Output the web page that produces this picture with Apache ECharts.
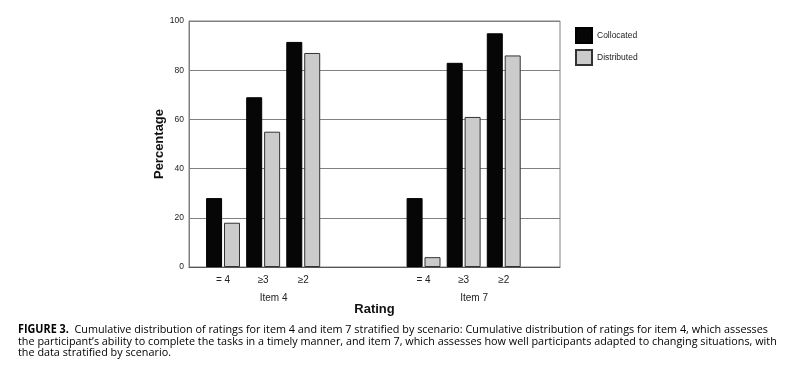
<!DOCTYPE html>
<html><head><meta charset="utf-8">
<script src="https://cdn.jsdelivr.net/npm/echarts@6/dist/echarts.min.js"></script>
<style>html,body{margin:0;padding:0;background:#fff}#c{width:786px;height:370px}</style>
</head><body><div id="c"></div>
<script>
// Data
const ratingLabels = ['= 4', '≥3', '≥2', '', '', '= 4', '≥3', '≥2'];
const itemLabels = ['', 'Item 4', '', '', '', '', 'Item 7', ''];
const collocated = [28, 69, 91.5, null, null, 28, 83, 95];
const distributed = [18, 55, 87, null, null, 4, 61, 86];
const seriesNames = ['Collocated', 'Distributed'];
const yMin = 0, yMax = 100, yStep = 20;
const captionLabel = 'FIGURE 3.';
const captionLines = [
  'Cumulative distribution of ratings for item 4 and item 7 stratified by scenario: Cumulative distribution of ratings for item 4, which assesses',
  'the participant\u2019s ability to complete the tasks in a timely manner, and item 7, which assesses how well participants adapted to changing situations, with',
  'the data stratified by scenario.'
];

const chart = echarts.init(document.getElementById('c'), null, {renderer: 'canvas'});
const F = 'Liberation Sans, Arial, Helvetica, sans-serif';
const CF = '"Open Sans", "Noto Sans", sans-serif';
const CS = 11.5;
const lineColor = '#808080';

// caption horizontal fit (layout only)
const mctx = document.createElement('canvas').getContext('2d');
function tw(t, f) { mctx.font = f; return mctx.measureText(t).width; }
const w1 = tw(captionLabel, 'bold ' + CS + 'px ' + CF) + tw('  ' + captionLines[0], CS + 'px ' + CF);
const sx = 750 / w1;

function capText(y, text, rich) {
  return {type: 'text', x: 18, y: y, scaleX: sx, scaleY: 1,
    style: Object.assign({text: text, fontFamily: CF, fontSize: CS, fill: '#000', verticalAlign: 'top', align: 'left'}, rich ? {rich: rich} : {})};
}

chart.setOption({
  animation: false,
  backgroundColor: '#fff',
  textStyle: {fontFamily: F},
  legend: {
    orient: 'vertical', left: 570, top: 22, itemWidth: 16, itemHeight: 15, itemGap: 5,
    icon: 'rect', data: seriesNames,
    textStyle: {fontSize: 8.5, color: '#222', fontFamily: F}
  },
  grid: [
    {left: 189, top: 21, width: 371, height: 246, show: true, borderColor: lineColor, borderWidth: 1, containLabel: false},
    {left: 203, top: 21, width: 320.8, height: 246, containLabel: false}
  ],
  xAxis: [
    {gridIndex: 0, type: 'value', min: 0, max: 1, axisLine: {show: true, lineStyle: {color: '#555'}}, axisTick: {show: false},
     axisLabel: {show: false}, splitLine: {show: false},
     name: 'Rating', nameLocation: 'middle', nameGap: 36,
     nameTextStyle: {fontSize: 13, fontWeight: 'bold', color: '#111', fontFamily: F}},
    {gridIndex: 1, type: 'category', data: ratingLabels, axisLine: {show: false}, axisTick: {show: false},
     axisLabel: {interval: 0, fontSize: 10, color: '#222', margin: 8, fontFamily: F}},
    {gridIndex: 1, type: 'category', data: itemLabels, position: 'bottom', offset: 18,
     axisLine: {show: false}, axisTick: {show: false},
     axisLabel: {interval: 0, fontSize: 10, color: '#222', margin: 8, padding: [0, 0, 0, 21], fontFamily: F}}
  ],
  yAxis: [
    {gridIndex: 0, type: 'value', min: yMin, max: yMax, interval: yStep,
     axisLine: {show: true, lineStyle: {color: lineColor}}, axisTick: {show: false},
     axisLabel: {fontSize: 8.5, color: '#222', margin: 5, fontFamily: F},
     splitLine: {show: true, lineStyle: {color: lineColor, width: 1}},
     name: 'Percentage', nameLocation: 'middle', nameGap: 22, nameRotate: 90,
     nameTextStyle: {fontSize: 13, fontWeight: 'bold', color: '#111', fontFamily: F}},
    {gridIndex: 1, type: 'value', min: yMin, max: yMax, show: false}
  ],
  series: [
    {name: seriesNames[0], type: 'bar', xAxisIndex: 1, yAxisIndex: 1, data: collocated,
     barWidth: 16, barGap: '12%',
     itemStyle: {color: '#060606', borderColor: '#000', borderWidth: 1}},
    {name: seriesNames[1], type: 'bar', xAxisIndex: 1, yAxisIndex: 1, data: distributed,
     barWidth: 16, barGap: '12%',
     itemStyle: {color: '#cbcbcb', borderColor: '#333', borderWidth: 1}}
  ],
  graphic: [
    capText(323.5, '{b|' + captionLabel + '}  ' + captionLines[0], {b: {fontWeight: 'bold', fontFamily: CF, fontSize: CS, fill: '#000'}}),
    capText(335.3, captionLines[1]),
    capText(347, captionLines[2])
  ]
});
</script></body></html>
